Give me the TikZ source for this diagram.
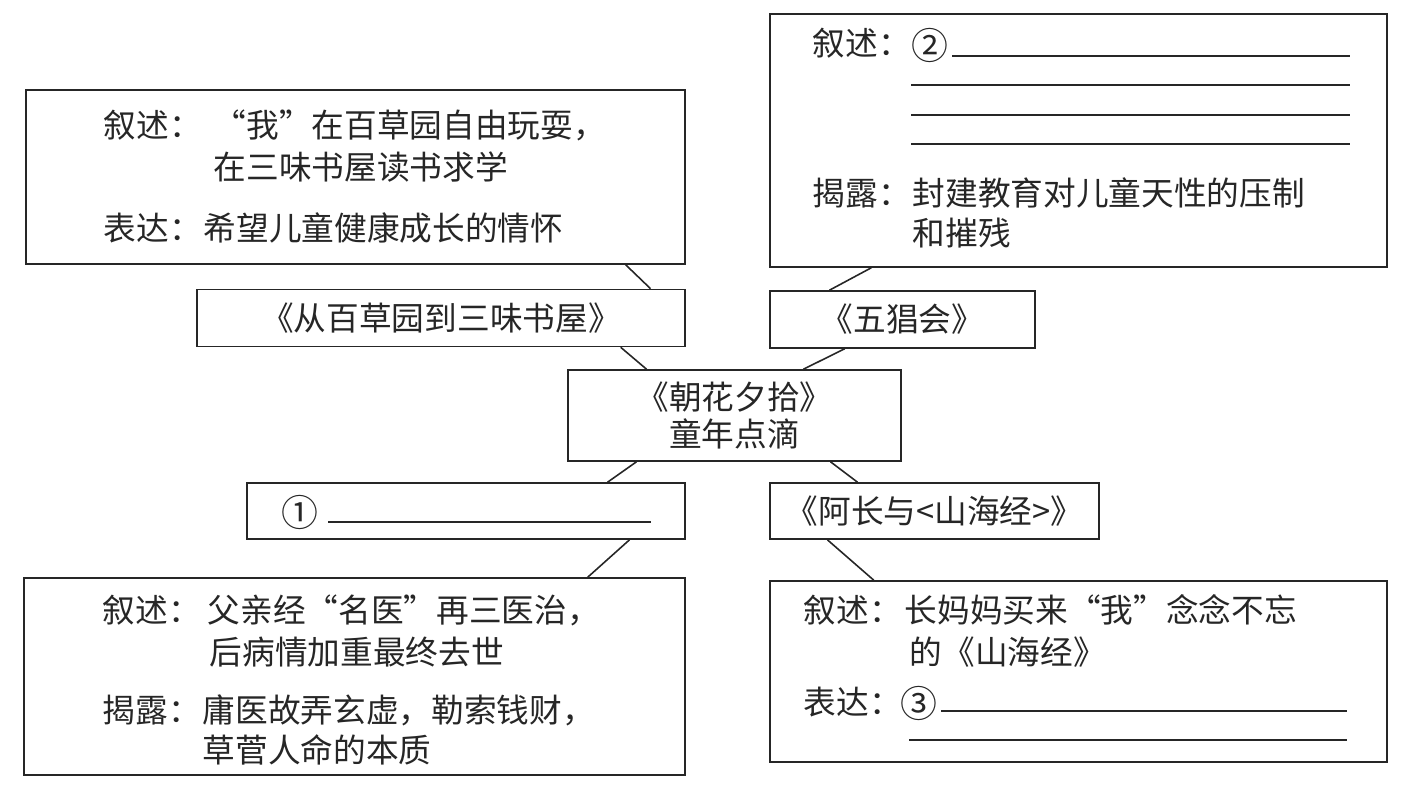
\documentclass[tikz,border=0pt]{standalone}
\usepackage{fontspec}
\setmainfont{Noto Sans CJK SC}
\usetikzlibrary{calc}
\begin{document}
\begin{tikzpicture}[x=0.02cm,y=-0.02cm,line width=0.9pt,draw=black!85]
                \tikzstyle{box}=[rectangle,draw=black!85,inner sep=0pt,align=center,text=black!85,font=\fontsize{18.6pt}{21.6pt}\selectfont]
                \tikzstyle{txt}=[anchor=west,inner sep=0pt,text=black!85,font=\fontsize{18.6pt}{20pt}\selectfont]
                \tikzstyle{num}=[txt,font=\fontsize{21pt}{22pt}\selectfont]
                \useasboundingbox (0,0) rectangle (1422,786);
                % boxes: name/centre x/centre y/width/height/text
                \foreach \name/\cx/\cy/\w/\h/\t in {tl/355.5/177/659/174/{}, tr/1078.5/140.5/617/253/{},
                        t1/441/318/488/57/{《从百草园到三味书屋》}, t2/902.5/319.5/265/57/{《五猖会》},
                        ctr/734.5/415.5/333/91/{《朝花夕拾》\\童年点滴},
                        t3/466/511/438/56/{}, t4/934.5/511/329/56/{《阿长与<山海经>》},
                        bl/354.5/676.5/661/197/{}, br/1078.5/671.5/617/181/{}}
                        \node[box,minimum width=\w*0.02cm,minimum height=\h*0.02cm] (\name) at (\cx,\cy) {\t};

                % lines of text inside the big boxes
                \foreach \name/\x/\y/\t in {tl-a/103/125/叙述：, tl-b/213/125/“我”在百草园自由玩耍，,
                        tl-c/213/167/在三味书屋读书求学, tl-d/103/228/表达：, tl-e/203/228/希望儿童健康成长的情怀,
                        tr-a/812/43/叙述：, tr-c/812/193/揭露：,
                        tr-d/912/193/封建教育对儿童天性的压制, tr-e/912/233/和摧残,
                        bl-a/102/610/叙述：, bl-b/207/610/父亲经“名医”再三医治，, bl-c/209/652/后病情加重最终去世,
                        bl-d/102/710/揭露：, bl-e/202/710/庸医故弄玄虚，勒索钱财，, bl-f/202/750/草菅人命的本质,
                        br-a/803/610/叙述：, br-b/904/610/长妈妈买来“我”念念不忘, br-c/909/652/的《山海经》,
                        br-d/803/702/表达：}
                        \node[txt] (\name) at (\x,\y) {\t};
                \foreach \name/\x/\y/\t in {tr-b/911/45/②, t3-a/281/512/①, br-e/900/703/③}
                        \node[num] (\name) at (\x,\y) {\t};

                % blanks to fill in
                \draw (952,56) -- (1350,56);
                \foreach \y in {85,115,144}
                        \draw (911,\y) -- (1350,\y);
                \draw (328,522) -- (651,522);
                \draw (941,711) -- (1347,711);
                \draw (909,740) -- (1347,740);

                % connectors
                \foreach \from/\fa/\to/\fb in {tl/0.909/t1/0.928, t1/0.867/ctr/0.237, tr/0.165/t2/0.226,
                        t2/0.283/ctr/0.706, ctr/0.207/t3/0.822, ctr/0.787/t4/0.267,
                        t3/0.872/bl/0.852, t4/0.176/br/0.169}
                        \draw ($(\from.south west)!\fa!(\from.south east)$) -- ($(\to.north west)!\fb!(\to.north east)$);
            \end{tikzpicture}
\end{document}
